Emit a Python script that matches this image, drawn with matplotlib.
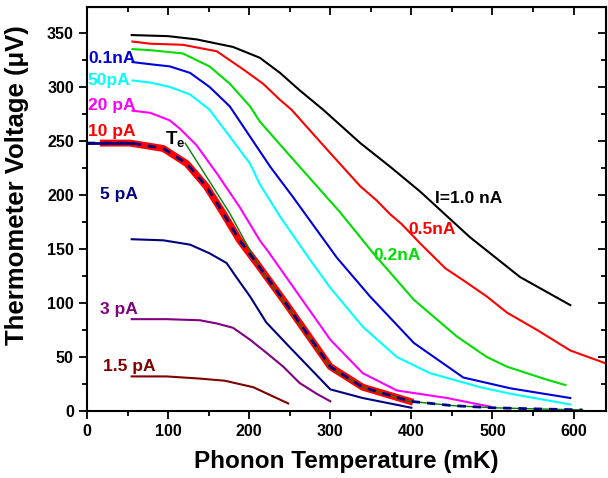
import matplotlib.pyplot as plt
from matplotlib.ticker import MultipleLocator, NullFormatter

plt.rcParams['font.family'] = ['Liberation Sans', 'DejaVu Sans']
plt.rcParams['font.weight'] = 'bold'

# curves: phonon temperature (mK), voltage (uV)
t_1000 = [55, 100, 135, 180, 213, 238, 262, 291, 337, 374, 411, 472, 534, 596]
v_1000 = [348, 347, 344, 337, 327, 313, 297, 279, 248, 226, 203, 161, 124, 98]

t_500 = [56, 78, 118, 160, 193, 217, 238, 252, 296, 337, 357, 374, 388, 411,
         442, 464, 493, 518, 555, 596, 640]
v_500 = [342, 340, 339, 333, 316, 303, 288, 279, 242, 208, 195, 182, 173, 155,
         132, 121, 106, 91, 75, 56, 44]

t_200 = [56, 78, 118, 151, 176, 201, 213, 254, 312, 353, 374, 403, 456, 493, 518, 567, 590]
v_200 = [335, 334, 331, 319, 303, 282, 268, 233, 184, 146, 128, 103, 69, 50, 41, 29, 24]

t_100 = [56, 78, 102, 127, 151, 176, 201, 226, 254, 308, 349, 403, 464, 522, 596]
v_100 = [323, 321, 319, 313, 300, 282, 254, 226, 198, 142, 106, 63, 31, 21, 12]

t_50 = [56, 78, 102, 127, 151, 176, 201, 213, 238, 275, 300, 340, 382, 423, 485, 522, 596]
v_50 = [306, 304, 300, 293, 279, 254, 229, 210, 180, 140, 114, 78, 50, 35, 22, 16, 6]

t_20 = [56, 78, 102, 115, 135, 160, 188, 213, 223, 300, 340, 382, 444, 497]
v_20 = [278, 276, 269, 261, 246, 220, 189, 158, 148, 66, 35, 19, 12, 4]

t_10 = [20, 53, 94, 123, 147, 168, 188, 209, 242, 300, 340, 398]
v_10 = [248, 248, 243, 229, 208, 183, 158, 137, 103, 41, 22, 9]

# fit on the 10 pA data (dashed) and T_e line
t_fit = [0, 55, 94, 123, 147, 168, 188, 209, 242, 300, 340, 398, 450, 500, 550, 611]
v_fit = [248, 248, 243, 229, 208, 183, 158, 137, 103, 41, 22, 9, 5, 3, 2, 1]
t_te = [121, 176, 213, 242, 300, 340, 398, 450, 500, 550, 611]
v_te = [248, 183, 132, 102, 40, 22, 9, 5, 3, 2, 1]

t_5 = [55, 94, 127, 151, 172, 184, 201, 221, 250, 300, 340, 400]
v_5 = [159, 158, 154, 146, 137, 124, 106, 82, 59, 20, 12, 3]

t_3 = [55, 98, 139, 160, 180, 201, 221, 242, 262, 283, 300]
v_3 = [85, 85, 84, 81, 77, 66, 54, 41, 26, 16, 9]

t_15 = [55, 98, 139, 170, 205, 248]
v_15 = [32, 32, 30, 28, 22, 7]

fig = plt.figure(figsize=(6.08, 4.78), dpi=100)
ax = fig.add_axes([0.1432, 0.1402, 0.8535, 0.8452])

lw = 1.5
ax.plot(t_1000, v_1000, color='black', lw=lw)
ax.plot(t_500, v_500, color='red', lw=lw)
ax.plot(t_200, v_200, color='#00dd00', lw=lw)
ax.plot(t_100, v_100, color='#0000dd', lw=lw)
ax.plot(t_50, v_50, color='cyan', lw=lw)
ax.plot(t_20, v_20, color='magenta', lw=lw)
ax.plot(t_10, v_10, color='red', lw=5)
ax.plot(t_te, v_te, color='green', lw=1.0)
ax.plot(t_fit, v_fit, color='#000080', lw=2, ls=(0, (3, 2.5)))
ax.plot(t_fit[:2], v_fit[:2], color='#000080', lw=2)
ax.plot(t_5, v_5, color='#000080', lw=lw)
ax.plot(t_3, v_3, color='purple', lw=lw)
ax.plot(t_15, v_15, color='#800000', lw=lw)

fs = 12.5
ax.text(1, 326, '0.1nA', color='#0000dd', fontsize=fs, va='center')
ax.text(1, 306, '50pA', color='cyan', fontsize=fs, va='center')
ax.text(1, 283, '20 pA', color='magenta', fontsize=fs, va='center')
ax.text(1, 259, '10 pA', color='red', fontsize=fs, va='center')
ax.text(16, 200, '5 pA', color='#000080', fontsize=fs, va='center')
ax.text(16, 94, '3 pA', color='purple', fontsize=fs, va='center')
ax.text(20, 41, '1.5 pA', color='#800000', fontsize=fs, va='center')
ax.text(96, 251, r'T$_\mathregular{e}$', color='black', fontsize=fs + 1, va='center')
ax.text(429, 197, 'I=1.0 nA', color='black', fontsize=fs, va='center')
ax.text(396, 168, '0.5nA', color='red', fontsize=fs, va='center')
ax.text(353, 144, '0.2nA', color='#00dd00', fontsize=fs, va='center')

ax.set_xlim(0, 640)
ax.set_ylim(0, 374)
ax.xaxis.set_major_locator(MultipleLocator(100))
ax.xaxis.set_minor_locator(MultipleLocator(50))
ax.yaxis.set_major_locator(MultipleLocator(50))
ax.yaxis.set_minor_locator(MultipleLocator(25))
ax.tick_params(which='both', direction='out', width=1.3, labelsize=11.5)
ax.tick_params(which='major', length=6)
ax.tick_params(which='minor', length=3.5)
for s in ax.spines.values():
    s.set_linewidth(1.5)

top = ax.secondary_xaxis('top')
top.xaxis.set_major_locator(MultipleLocator(100))
top.xaxis.set_minor_locator(MultipleLocator(50))
top.xaxis.set_major_formatter(NullFormatter())
top.tick_params(which='both', direction='in', width=1.3)
top.tick_params(which='major', length=6)
top.tick_params(which='minor', length=3.5)
right = ax.secondary_yaxis('right')
right.yaxis.set_major_locator(MultipleLocator(50))
right.yaxis.set_minor_locator(MultipleLocator(25))
right.yaxis.set_major_formatter(NullFormatter())
right.tick_params(which='both', direction='in', width=1.3)
right.tick_params(which='major', length=6)
right.tick_params(which='minor', length=3.5)

ax.set_xlabel('Phonon Temperature (mK)', fontsize=17.5, fontweight='bold', labelpad=8)
ax.set_ylabel('Thermometer Voltage (\u03bcV)', fontsize=18.5, fontweight='bold')
ax.yaxis.set_label_coords(-0.112, 0.56)

fig.savefig('out.png', dpi=100)
